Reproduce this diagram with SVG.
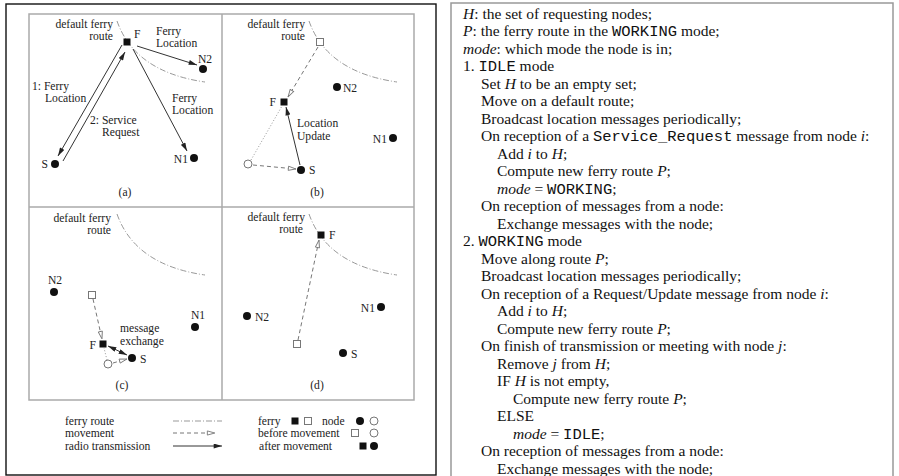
<svg xmlns="http://www.w3.org/2000/svg" width="899" height="476" viewBox="0 0 899 476">
<defs>
<style>
.bg{fill:#fff}
.frame{fill:none;stroke:#111;stroke-width:1.4}
.panel{fill:none;stroke:#aaa;stroke-width:1.5}
.textbox{fill:none;stroke:#999;stroke-width:1.5}
.route{fill:none;stroke:#999;stroke-width:1;stroke-dasharray:6 2 1 2}
.move{fill:none;stroke:#777;stroke-width:1;stroke-dasharray:4 3;marker-end:url(#ao)}
.radio{fill:none;stroke:#333;stroke-width:1;marker-end:url(#ah)}
.radio2{fill:none;stroke:#333;stroke-width:1;marker-start:url(#ah);marker-end:url(#ah)}
.dotl{fill:none;stroke:#999;stroke-width:1;stroke-dasharray:1 2}
.n{fill:#111}
.nb{fill:#fff;stroke:#777;stroke-width:1}
.f{fill:#111}
.fb{fill:#fff;stroke:#777;stroke-width:1}
.t{font-family:"Liberation Serif","Times New Roman",serif;font-size:11.6px;fill:#222}
.e{text-anchor:end}
.m{text-anchor:middle}
.p{font-family:"Liberation Serif","Times New Roman",serif;font-size:15.5px;fill:#111}
.i{font-style:italic}
.c{font-family:"Liberation Mono","Courier New",monospace}
</style>
<marker id="ah" viewBox="0 0 10 6" refX="10" refY="3" markerWidth="9" markerHeight="5" markerUnits="userSpaceOnUse" orient="auto-start-reverse">
<path d="M0,0 L10,3 L0,6 z" fill="#222"/>
</marker>
<marker id="ao" viewBox="0 0 10 6" refX="9.5" refY="3" markerWidth="9" markerHeight="6" markerUnits="userSpaceOnUse" orient="auto">
<path d="M1,0.7 L9.3,3 L1,5.3 z" fill="#fff" stroke="#777" stroke-width="1" stroke-dasharray="none"/>
</marker>
</defs>
<rect class="bg" x="0" y="0" width="899" height="476"/>

<!-- frames -->
<g id="frames">
<rect class="frame" x="6" y="4" width="430" height="471"/>
<rect class="panel" x="29" y="14" width="385" height="386"/>
<line class="panel" x1="222" y1="14" x2="222" y2="400"/>
<line class="panel" x1="29" y1="207" x2="414" y2="207"/>
<path class="textbox" d="M451,477 L451,3 L893,3 L893,477"/>
</g>

<!-- ferry routes -->
<g id="routes">
<path class="route" d="M117,21 Q135,72 205,82"/>
<path class="route" d="M309,21 Q327,72 397,82"/>
<path class="route" d="M117,214 Q135,265 205,275"/>
<path class="route" d="M309,214 Q327,265 397,275"/>
</g>

<!-- connectors -->
<g id="connectors">
<!-- (a) -->
<line class="radio" x1="137" y1="46" x2="197" y2="65"/>
<line class="radio" x1="133" y1="49" x2="187" y2="151"/>
<line class="radio" x1="122" y1="45" x2="58" y2="156"/>
<line class="radio" x1="63" y1="161" x2="125" y2="52"/>
<!-- (b) -->
<line class="move" x1="318" y1="47" x2="288" y2="97"/>
<line class="radio" x1="300" y1="165" x2="286" y2="107"/>
<line class="dotl" x1="251" y1="160" x2="282" y2="106"/>
<line class="move" x1="253" y1="165" x2="296" y2="169"/>
<!-- (c) -->
<line class="move" x1="93" y1="299" x2="102" y2="339"/>
<line class="radio2" x1="108" y1="346" x2="127" y2="355"/>
<line class="dotl" x1="107" y1="360" x2="104" y2="348"/>
<line class="move" x1="113" y1="363" x2="127" y2="359"/>
<!-- (d) -->
<line class="move" x1="298" y1="340" x2="319" y2="240"/>
<!-- connector labels -->
<g class="t">
<text x="156" y="35">Ferry</text>
<text x="156" y="47">Location</text>
<text x="172" y="102">Ferry</text>
<text x="172" y="114">Location</text>
<text x="32" y="90">1: Ferry</text>
<text x="45" y="102">Location</text>
<text x="90" y="124">2: Service</text>
<text x="102" y="136">Request</text>
<text x="297" y="127">Location</text>
<text x="297" y="140">Update</text>
<text x="120" y="332">message</text>
<text x="120" y="345">exchange</text>
</g>
</g>

<!-- panel (a) -->
<g id="panel-a" class="t">
<text class="e" x="113" y="28">default ferry</text>
<text class="e" x="113" y="40">route</text>
<text class="m" x="125" y="196">(a)</text>
</g>
<g id="a-F"><rect class="f" x="123.5" y="38.5" width="7" height="7"/><text class="t" x="134" y="38">F</text></g>
<g id="a-N2"><circle class="n" cx="203" cy="69" r="4"/><text class="t m" x="205" y="63">N2</text></g>
<g id="a-N1"><circle class="n" cx="194" cy="158" r="4"/><text class="t e" x="188" y="163">N1</text></g>
<g id="a-S"><circle class="n" cx="55" cy="164" r="4"/><text class="t e" x="48" y="168">S</text></g>

<!-- panel (b) -->
<g id="panel-b" class="t">
<text class="e" x="305" y="28">default ferry</text>
<text class="e" x="305" y="40">route</text>
<text class="m" x="317" y="196">(b)</text>
</g>
<g id="b-F0"><rect class="fb" x="316.5" y="38.5" width="7" height="7"/></g>
<g id="b-F"><rect class="f" x="280.5" y="98.5" width="7" height="7"/><text class="t e" x="276" y="106">F</text></g>
<g id="b-N2"><circle class="n" cx="337" cy="87" r="4"/><text class="t" x="343" y="92">N2</text></g>
<g id="b-N1"><circle class="n" cx="393" cy="138" r="4"/><text class="t e" x="387" y="143">N1</text></g>
<g id="b-S0"><circle class="nb" cx="248" cy="164" r="4"/></g>
<g id="b-S"><circle class="n" cx="301" cy="170" r="4"/><text class="t" x="309" y="174">S</text></g>

<!-- panel (c) -->
<g id="panel-c" class="t">
<text class="e" x="111" y="222">default ferry</text>
<text class="e" x="111" y="234">route</text>
<text class="m" x="122" y="389">(c)</text>
</g>
<g id="c-N2"><circle class="n" cx="54" cy="292" r="4"/><text class="t m" x="55" y="284">N2</text></g>
<g id="c-F0"><rect class="fb" x="88.5" y="291.5" width="7" height="7"/></g>
<g id="c-F"><rect class="f" x="99.5" y="340.5" width="7" height="7"/><text class="t e" x="96" y="349">F</text></g>
<g id="c-S0"><circle class="nb" cx="108" cy="364" r="4"/></g>
<g id="c-S"><circle class="n" cx="132" cy="358" r="4"/><text class="t" x="140" y="363">S</text></g>
<g id="c-N1"><circle class="n" cx="195" cy="327" r="4"/><text class="t m" x="198" y="319">N1</text></g>

<!-- panel (d) -->
<g id="panel-d" class="t">
<text class="e" x="305" y="221">default ferry</text>
<text class="e" x="303" y="233">route</text>
<text class="m" x="317" y="389">(d)</text>
</g>
<g id="d-F"><rect class="f" x="317.5" y="231.5" width="7" height="7"/><text class="t" x="329" y="239">F</text></g>
<g id="d-F0"><rect class="fb" x="293.5" y="340.5" width="7" height="7"/></g>
<g id="d-N2"><circle class="n" cx="247" cy="316" r="4"/><text class="t" x="255" y="321">N2</text></g>
<g id="d-N1"><circle class="n" cx="381" cy="307" r="4"/><text class="t e" x="375" y="312">N1</text></g>
<g id="d-S"><circle class="n" cx="343" cy="353" r="4"/><text class="t" x="351" y="358">S</text></g>

<!-- legend -->
<g id="legend">
<g class="t">
<text x="65" y="425">ferry route</text>
<text x="65" y="437">movement</text>
<text x="65" y="450">radio transmission</text>
<text x="258" y="425">ferry</text>
<text x="322" y="425">node</text>
<text x="258" y="437">before movement</text>
<text x="259" y="450">after movement</text>
</g>
<line class="route" x1="173" y1="421" x2="222" y2="421"/>
<line class="move" x1="173" y1="433" x2="215" y2="433"/>
<line class="radio" x1="173" y1="446" x2="222" y2="446"/>
<rect class="f" x="291.5" y="417.5" width="7" height="7"/>
<rect class="fb" x="304.5" y="417.5" width="7" height="7"/>
<circle class="n" cx="360" cy="421" r="4"/>
<circle class="nb" cx="374" cy="421" r="4"/>
<rect class="fb" x="351.5" y="429.5" width="7" height="7"/>
<circle class="nb" cx="374" cy="433" r="4"/>
<rect class="f" x="359.5" y="442.5" width="7" height="7"/>
<circle class="n" cx="374" cy="446" r="4"/>
</g>

<!-- pseudocode -->
<g id="pseudocode" class="p">
<text x="463" y="18.5"><tspan class="i">H</tspan>: the set of requesting nodes;</text>
<text x="463" y="36"><tspan class="i">P</tspan>: the ferry route in the <tspan class="c">WORKING</tspan> mode;</text>
<text x="463" y="53.5"><tspan class="i">mode</tspan>: which mode the node is in;</text>
<text x="463" y="71">1. <tspan class="c">IDLE</tspan> mode</text>
<text x="481" y="88.5">Set <tspan class="i">H</tspan>  to be an empty set;</text>
<text x="481" y="106">Move on a default route;</text>
<text x="481" y="123.5">Broadcast location messages periodically;</text>
<text x="481" y="141">On reception of a <tspan class="c">Service_Request</tspan> message from node <tspan class="i">i</tspan>:</text>
<text x="497" y="158.5">Add <tspan class="i">i</tspan> to <tspan class="i">H</tspan>;</text>
<text x="497" y="176">Compute new ferry route <tspan class="i">P</tspan>;</text>
<text x="497" y="193.5"><tspan class="i">mode</tspan> = <tspan class="c">WORKING</tspan>;</text>
<text x="481" y="211">On reception of messages from a node:</text>
<text x="497" y="228.5">Exchange messages with the node;</text>
<text x="463" y="246">2. <tspan class="c">WORKING</tspan> mode</text>
<text x="481" y="263.5">Move along route <tspan class="i">P</tspan>;</text>
<text x="481" y="281">Broadcast location messages periodically;</text>
<text x="481" y="298.5">On reception of a Request/Update message from node <tspan class="i">i</tspan>:</text>
<text x="497" y="316">Add <tspan class="i">i</tspan> to <tspan class="i">H</tspan>;</text>
<text x="497" y="333.5">Compute new ferry route <tspan class="i">P</tspan>;</text>
<text x="481" y="351">On finish of transmission or meeting with node <tspan class="i">j</tspan>:</text>
<text x="497" y="368.5">Remove <tspan class="i">j</tspan> from <tspan class="i">H</tspan>;</text>
<text x="497" y="386">IF <tspan class="i">H</tspan> is not empty,</text>
<text x="513" y="403.5">Compute new ferry route <tspan class="i">P</tspan>;</text>
<text x="497" y="421">ELSE</text>
<text x="513" y="438.5"><tspan class="i">mode</tspan> = <tspan class="c">IDLE</tspan>;</text>
<text x="481" y="456">On reception of messages from a node:</text>
<text x="497" y="473.5">Exchange messages with the node;</text>
</g>
</svg>
